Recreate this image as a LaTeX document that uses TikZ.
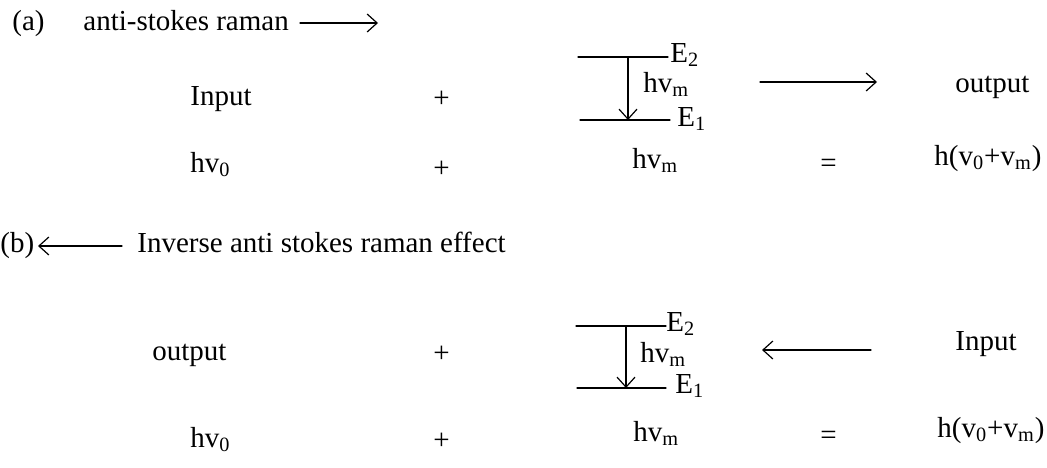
\documentclass[tikz,border=0pt]{standalone}
\usepackage{fontspec}
\setmainfont{Liberation Serif}
\usepackage{tkz-euclide}
\usetikzlibrary{arrows.meta,calc}

\tikzset{
  lbl/.style={anchor=base west,inner sep=0pt,font=\fontsize{14.5}{17}\selectfont},
  lvl/.style={line width=0.6pt,color=black},
  ray/.style={line width=0.6pt,color=black,-{Straight Barb[length=5pt,width=9pt]}},
}

\begin{document}
\begin{tikzpicture}[x=0.5pt,y=-0.5pt]
\useasboundingbox (0,0) rectangle (1047,467);

% (a) anti-stokes raman
\tkzDefPoints{300/23/P,378/23/Q,578/57/A,668/57/B,580/120/C,670/120/D,628/57/M,628/120/N,760/82/R,877/82/S}
\tkzDrawSegments[lvl](A,B C,D)
\tkzDrawSegments[ray](P,Q M,N R,S)

\node[lbl] (tagA) at (12,30) {(a)};
\node[lbl] (headA) at (83,30) {anti-stokes raman};
\node[lbl] (inA) at (190,105) {Input};
\node[lbl] (plA) at (433,107) {+};
\node[lbl] (etwoA) at (670,62) {E\textsubscript{2}};
\node[lbl] (hvA) at (643,92) {hv\textsubscript{m}};
\node[lbl] (eoneA) at (677,126) {E\textsubscript{1}};
\node[lbl] (outA) at (955,92) {output};
\node[lbl] (hvoA) at (190,172) {hv\textsubscript{0}};
\node[lbl] (plB) at (433,177) {+};
\node[lbl] (hvmA) at (632,168) {hv\textsubscript{m}};
\node[lbl] (eqA) at (820,172) {=};
\node[lbl] (sumA) at (934,165) {h(v\textsubscript{0}+v\textsubscript{m})};

% (b) inverse anti stokes raman effect
\tkzDefPoints{122/246/U,38/246/V,576/326/E,666/326/F,577/388/G,666/388/H,626/326/K,626/388/L,871/350/W,762/350/Z}
\tkzDrawSegments[lvl](E,F G,H)
\tkzDrawSegments[ray](U,V K,L W,Z)

\node[lbl] (tagB) at (0,252) {(b)};
\node[lbl] (headB) at (137,252) {Inverse anti stokes raman effect};
\node[lbl] (outB) at (152,360) {output};
\node[lbl] (plC) at (433,362) {+};
\node[lbl] (etwoB) at (666,331) {E\textsubscript{2}};
\node[lbl] (hvB) at (640,362) {hv\textsubscript{m}};
\node[lbl] (eoneB) at (675,393) {E\textsubscript{1}};
\node[lbl] (inB) at (955,350) {Input};
\node[lbl] (hvoB) at (190,447) {hv\textsubscript{0}};
\node[lbl] (plD) at (433,449) {+};
\node[lbl] (hvmB) at (633,441) {hv\textsubscript{m}};
\node[lbl] (eqB) at (820,444) {=};
\node[lbl] (sumB) at (937,437) {h(v\textsubscript{0}+v\textsubscript{m})};
\end{tikzpicture}
\end{document}
